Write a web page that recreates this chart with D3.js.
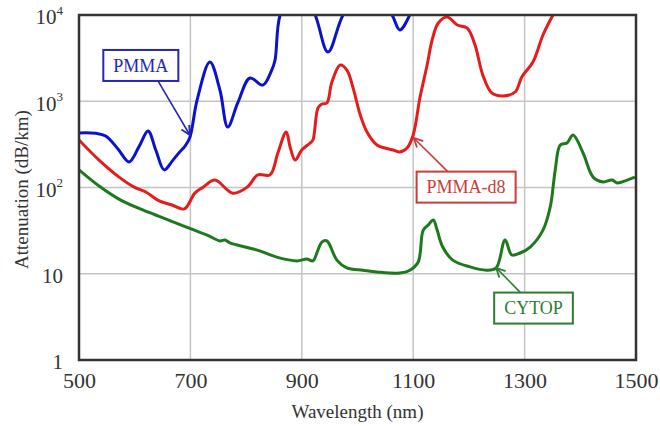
<!DOCTYPE html>
<html>
<head>
<meta charset="utf-8">
<script src="https://cdn.jsdelivr.net/npm/d3@7"></script>
<style>
  body { margin: 0; background: #ffffff; }
  svg { display: block; }
</style>
</head>
<body>
<svg id="chart" width="660" height="426"></svg>
<script>
// Axis ticks
const wavelengthTicks = [500, 700, 900, 1100, 1300, 1500];
const attenuationTicks = [1, 10, 100, 1000, 10000];
const attenuationTickLabels = [["1", ""], ["10", ""], ["10", "2"], ["10", "3"], ["10", "4"]];

// Attenuation spectra: [wavelength (nm), attenuation (dB/km)]
const pmma = [
  [500, 429], [530, 425], [548, 395], [570, 280], [590, 198], [608, 300], [624, 452], [638, 270],
  [653, 160], [668, 205], [680, 255], [690, 300], [699, 380], [712, 1030], [735, 2850],
  [753, 1350], [767, 502], [785, 955], [807, 1860], [830, 1540], [846, 2300], [852, 3010],
  [861, 10000], [892, 25000], [924, 10000], [947, 3720], [974, 10000], [1018, 25000],
  [1062, 10000], [1076, 6700], [1094, 10000], [1115, 20000]
];
const pmmaD8 = [
  [500, 356], [536, 208], [572, 132], [599, 101], [620, 88.7], [644, 70], [667, 62.7],
  [689, 56.4], [708, 86], [723, 101], [744, 122], [776, 86], [802, 101], [821, 140],
  [843, 140], [857, 251], [872, 440], [879, 295], [888, 208], [900, 272], [915, 328],
  [920, 356], [929, 836], [936, 929], [945, 955], [954, 1670], [969, 2630], [981, 2300],
  [992, 1430], [1005, 693], [1017, 440], [1035, 311], [1049, 287], [1064, 272], [1076, 258],
  [1089, 287], [1100, 406], [1112, 1090], [1125, 2630], [1134, 5130], [1145, 8070],
  [1161, 9480], [1179, 7660], [1197, 7060], [1211, 4490], [1225, 2010], [1241, 1250],
  [1261, 1150], [1283, 1280], [1295, 1910], [1315, 2850], [1333, 5860], [1349, 9480],
  [1358, 12000]
];
const cytop = [
  [500, 160], [536, 104], [574, 72], [627, 51], [699, 33.5], [730, 28.1], [753, 24.0],
  [762, 24.6], [771, 22.8], [820, 18.8], [855, 15.6], [891, 14.1], [909, 14.8], [920, 14.1],
  [929, 18.8], [936, 23.3], [945, 24.0], [963, 14.4], [981, 11.7], [1010, 11.0], [1035, 10.5],
  [1076, 10.2], [1094, 11.0], [1109, 13.7], [1118, 32.1], [1127, 36.7], [1136, 42.0],
  [1143, 32.1], [1153, 20.4], [1171, 14.4], [1202, 12.0], [1232, 11.0], [1249, 11.7],
  [1265, 24.6], [1277, 16.5], [1292, 17.4], [1310, 20.4], [1333, 32.1], [1346, 59.4],
  [1355, 160], [1364, 311], [1376, 328], [1387, 406], [1405, 251], [1423, 132], [1441, 116],
  [1457, 122], [1466, 113], [1484, 122], [1498, 132]
];

const seriesNames = ["PMMA", "PMMA-d8", "CYTOP"];
const seriesData = [pmma, pmmaD8, cytop];
const seriesColors = ["#0a12d0", "#e41c1c", "#1c7a1c"];
const labelColors = ["#2626b8", "#cc3a3a", "#2e7d32"];

// Callouts: arrow tip on the curve and box centre, both in data units
const calloutTips = [[699, 406], [1101, 375], [1249, 11.7]];
const calloutBoxes = [[611, 2600], [1195, 101], [1316, 4.0]];
const calloutArrowFrom = ["bottom", "top", "top"];

const serif = "'Liberation Serif', 'DejaVu Serif', 'Times New Roman', serif";

const svg = d3.select("#chart");
const margin = { left: 79, right: 24, top: 15, bottom: 66 };
const W = 660, H = 426;
const x = d3.scaleLinear().domain([500, 1500]).range([margin.left, W - margin.right]);
const y = d3.scaleLog().domain([1, 10000]).range([H - margin.bottom, margin.top]);

const defs = svg.append("defs");
defs.append("clipPath").attr("id", "plot-clip")
  .append("rect")
  .attr("x", x(500)).attr("y", y(10000))
  .attr("width", x(1500) - x(500)).attr("height", y(1) - y(10000));

// Grid
const grid = svg.append("g").attr("stroke", "#c4c4c4").attr("stroke-width", 1.5);
grid.selectAll("line.v").data(wavelengthTicks.slice(1, -1)).join("line")
  .attr("x1", d => x(d)).attr("x2", d => x(d))
  .attr("y1", y(1)).attr("y2", y(10000));
grid.selectAll("line.h").data(attenuationTicks.slice(1, -1)).join("line")
  .attr("x1", x(500)).attr("x2", x(1500))
  .attr("y1", d => y(d)).attr("y2", d => y(d));

// Curves
const line = d3.line().x(d => x(d[0])).y(d => y(d[1])).curve(d3.curveCatmullRom.alpha(0.5));
svg.append("g").attr("clip-path", "url(#plot-clip)")
  .selectAll("path").data(seriesData).join("path")
  .attr("d", line)
  .attr("fill", "none")
  .attr("stroke", (d, i) => seriesColors[i])
  .attr("stroke-width", 3)
  .attr("stroke-linejoin", "round");

// Frame
svg.append("rect")
  .attr("x", x(500)).attr("y", y(10000))
  .attr("width", x(1500) - x(500)).attr("height", y(1) - y(10000))
  .attr("fill", "none").attr("stroke", "#333333").attr("stroke-width", 2.5);

// X axis labels
const xAxis = d3.axisBottom(x).tickValues(wavelengthTicks).tickSize(0).tickPadding(12)
  .tickFormat(d3.format("d"));
const gx = svg.append("g").attr("transform", `translate(0,${y(1)})`).call(xAxis);
gx.select(".domain").remove();
gx.attr("font-family", serif).attr("font-size", 22);
gx.selectAll("text").attr("fill", "#333");

// Y axis labels with superscript exponents
const gy = svg.append("g");
gy.selectAll("text").data(attenuationTicks).join("text")
  .attr("x", 63).attr("y", d => y(d) + 2).attr("dy", "0.35em")
  .attr("text-anchor", "end").attr("font-size", 21).attr("fill", "#333")
  .each(function (d, i) {
    const t = d3.select(this);
    const [base, exp] = attenuationTickLabels[i];
    t.append("tspan").text(base);
    if (exp) t.append("tspan").attr("font-size", 13).attr("dy", "-0.75em").text(exp);
  });

// Axis titles
svg.append("text")
  .attr("x", (x(500) + x(1500)) / 2).attr("y", 418)
  .attr("text-anchor", "middle").attr("font-size", 19).attr("fill", "#333")
  .text("Wavelength (nm)");
svg.append("text")
  .attr("transform", `translate(28,${(y(1) + y(10000)) / 2 + 2}) rotate(-90)`)
  .attr("text-anchor", "middle").attr("font-size", 19).attr("fill", "#333")
  .text("Attenuation (dB/km)");

// Callout boxes with arrows pointing at each curve
labelColors.forEach((c, i) => {
  defs.append("marker").attr("id", "arrow" + i)
    .attr("viewBox", "0 0 10 10").attr("refX", 9).attr("refY", 5)
    .attr("markerWidth", 7).attr("markerHeight", 7).attr("orient", "auto")
    .append("path").attr("d", "M1,1 L9,5 L1,9").attr("fill", "none")
    .attr("stroke", c).attr("stroke-width", 1.6);
});

const callouts = svg.append("g");
seriesNames.forEach((name, i) => {
  const cx = x(calloutBoxes[i][0]), cy = y(calloutBoxes[i][1]);
  const g = callouts.append("g");
  const label = g.append("text")
    .attr("x", cx).attr("y", cy).attr("dy", "0.35em")
    .attr("font-family", serif)
    .attr("text-anchor", "middle").attr("font-size", 18)
    .attr("fill", labelColors[i]).text(name);
  const bb = label.node().getBBox();
  const padX = 10, h = 31;
  const bw = bb.width + 2 * padX;
  g.insert("rect", "text")
    .attr("x", cx - bw / 2).attr("y", cy - h / 2)
    .attr("width", bw).attr("height", h)
    .attr("fill", "#ffffff").attr("stroke", labelColors[i]).attr("stroke-width", 2);
  const tx = x(calloutTips[i][0]), ty = y(calloutTips[i][1]);
  const sy = calloutArrowFrom[i] === "bottom" ? cy + h / 2 : cy - h / 2;
  const sx = cx + (tx - cx) * 0.35;
  g.append("line")
    .attr("x1", sx).attr("y1", sy).attr("x2", tx).attr("y2", ty)
    .attr("stroke", labelColors[i]).attr("stroke-width", 1.6)
    .attr("marker-end", `url(#arrow${i})`);
});

// Serif typeface throughout
svg.selectAll("text").attr("font-family", serif);
</script>
</body>
</html>
